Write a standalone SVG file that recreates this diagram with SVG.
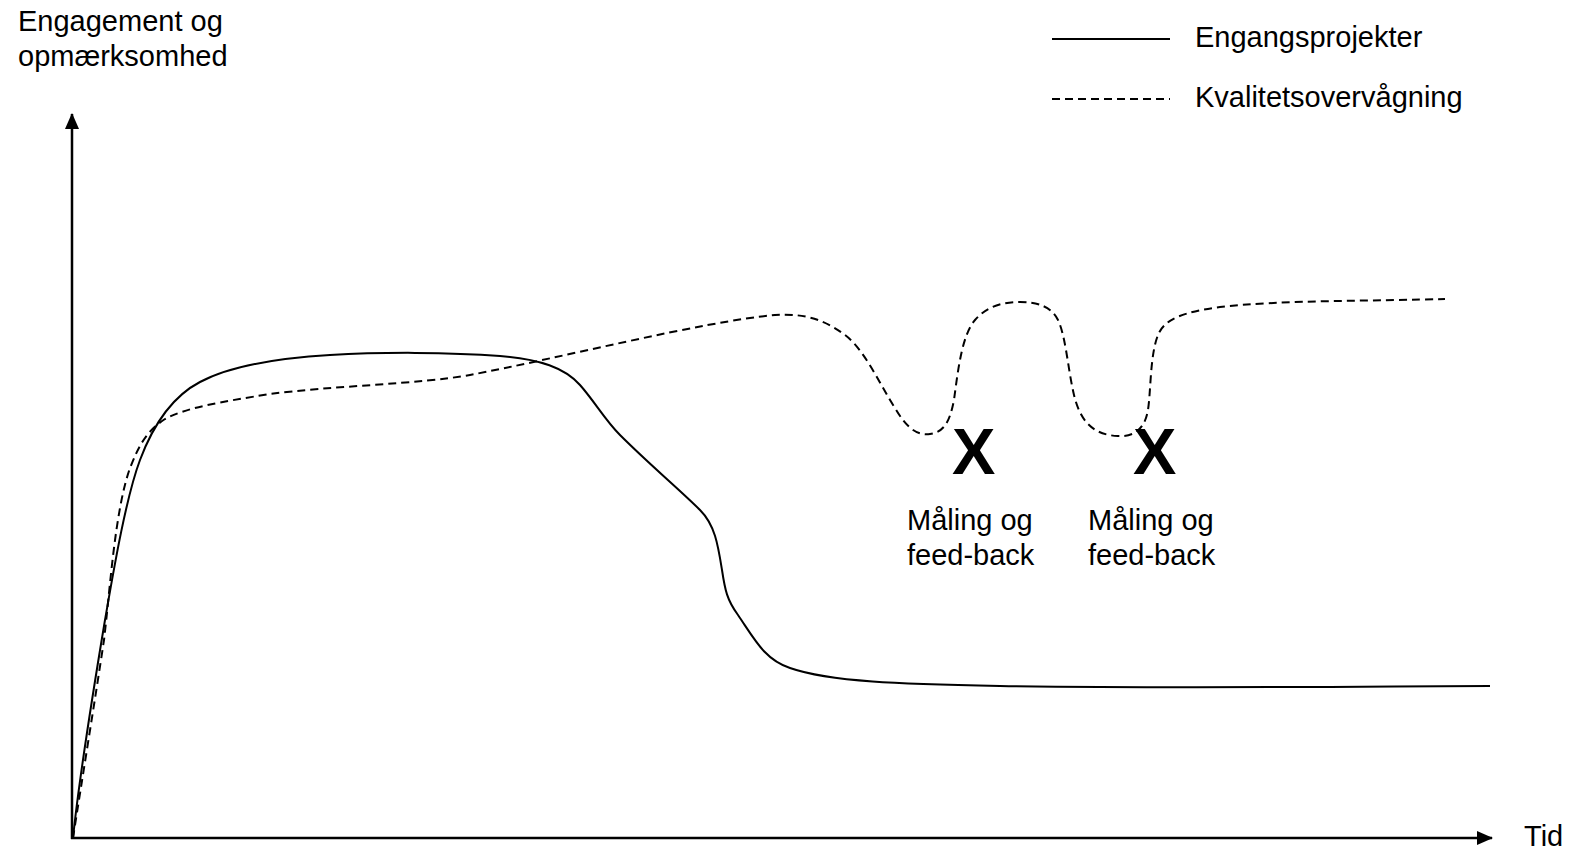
<svg xmlns="http://www.w3.org/2000/svg" width="1573" height="851" viewBox="0 0 1573 851">
<style>
  text { font-family: "Liberation Sans", Arial, sans-serif; font-size: 29px; fill: #000; }
  .mark { font-weight: bold; font-size: 65px; }
  .axis { stroke: #000; stroke-width: 2.5; fill: none; }
  .solid { stroke: #000; stroke-width: 2; fill: none; }
  .dashed { stroke: #000; stroke-width: 2; fill: none; stroke-dasharray: 8 5; }
</style>
<defs>
  <marker id="arrow" viewBox="0 0 16 14" refX="15" refY="7" markerWidth="16" markerHeight="14" markerUnits="userSpaceOnUse" orient="auto">
    <path d="M0,0 L16,7 L0,14 Z" fill="#000"/>
  </marker>
</defs>
<rect width="1573" height="851" fill="#fff"/>

<g id="axes">
  <line class="axis" x1="72" y1="839" x2="72" y2="114" marker-end="url(#arrow)"/>
  <line class="axis" x1="71" y1="838" x2="1492" y2="838" marker-end="url(#arrow)"/>
</g>

<g id="axis-labels">
  <text x="18" y="31">Engagement og</text>
  <text x="18" y="66">opmærksomhed</text>
  <text x="1524" y="846">Tid</text>
</g>

<g id="legend">
  <line class="solid" x1="1052" y1="39" x2="1170" y2="39"/>
  <text x="1195" y="47">Engangsprojekter</text>
  <line class="dashed" x1="1052" y1="99" x2="1170" y2="99"/>
  <text x="1195" y="107">Kvalitetsovervågning</text>
</g>

<g id="connectors">
  <path id="engangsprojekter" class="solid" d="M73,838 C80,770 95,680 105,620 C112,580 125,500 140,460 C155,420 175,395 200,382 C230,366 280,358 330,355 C380,352 450,352 500,356 C540,359 565,368 580,385 C595,402 605,420 620,435 C650,465 680,490 700,510 C715,525 718,545 722,570 C725,590 727,600 738,615 C755,640 765,660 790,668 C830,682 900,684 1000,686 C1200,689 1400,686 1490,686"/>
  <path id="kvalitetsovervaagning" class="dashed" d="M73,838 C82,780 95,700 104,640 C110,590 115,510 130,468 C138,448 145,432 165,419 C185,408 220,402 270,394 C330,386 420,384 470,375 C560,358 700,322 775,315 C805,313 825,320 845,335 C865,350 880,385 895,408 C905,425 915,436 930,434 C945,432 950,420 954,400 C958,370 962,335 975,320 C988,305 1005,302 1020,302 C1040,302 1052,308 1058,320 C1066,337 1068,370 1074,395 C1080,420 1092,435 1118,436 C1135,437 1145,428 1148,410 C1151,390 1150,355 1158,335 C1165,318 1185,312 1220,307 C1280,300 1380,301 1445,299"/>
</g>

<g id="maaling1">
  <text class="mark" x="952" y="474">X</text>
  <text x="907" y="530">Måling og</text>
  <text x="907" y="565">feed-back</text>
</g>

<g id="maaling2">
  <text class="mark" x="1133" y="474">X</text>
  <text x="1088" y="530">Måling og</text>
  <text x="1088" y="565">feed-back</text>
</g>
</svg>
